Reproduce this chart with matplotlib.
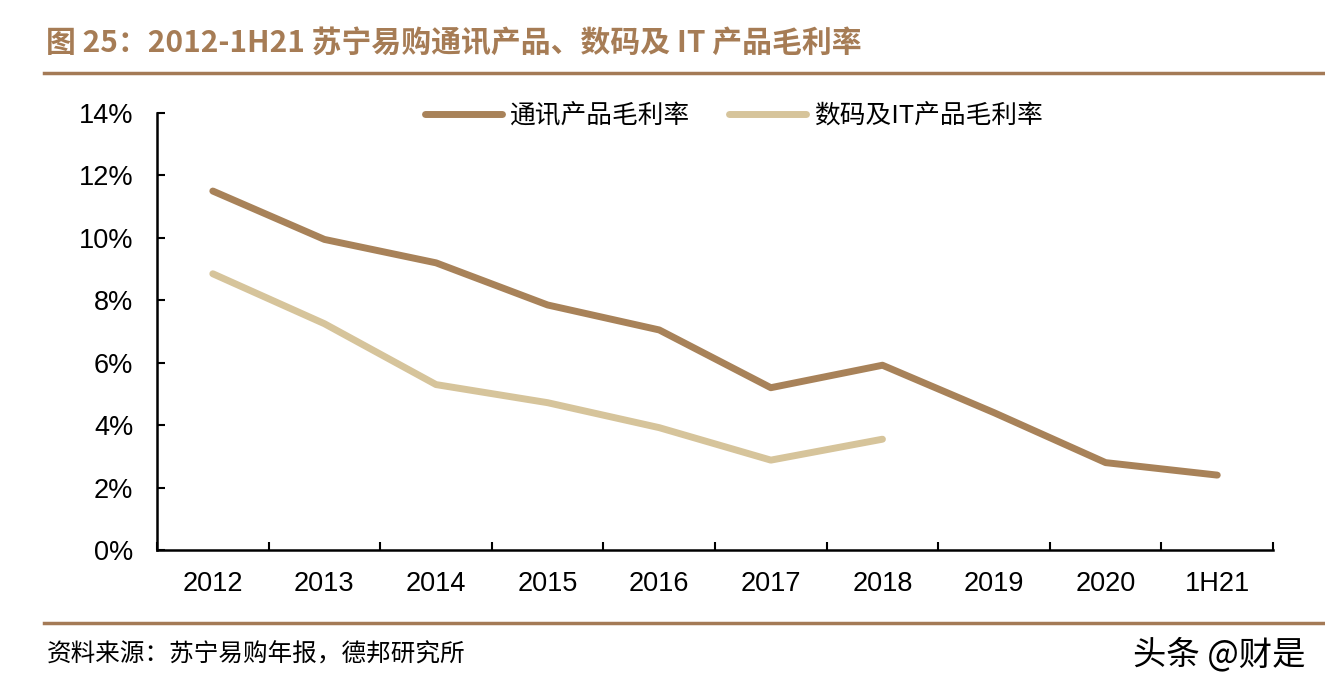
import matplotlib
matplotlib.use('Agg')
import matplotlib.pyplot as plt
import numpy as np

plt.rcParams['font.family'] = ['Liberation Sans', 'Noto Sans CJK SC', 'DejaVu Sans']

# data
periods = ['2012', '2013', '2014', '2015', '2016', '2017', '2018', '2019', '2020', '1H21']
comm_margin = [11.5, 9.95, 9.2, 7.85, 7.05, 5.2, 5.92, 4.4, 2.8, 2.4]
digital_margin = [8.85, 7.25, 5.3, 4.72, 3.92, 2.88, 3.55]

brown = '#A88259'
beige = '#D6C49B'
title_col = '#A67C55'
cjk = ['Noto Sans CJK SC', 'DejaVu Sans']

fig = plt.figure(figsize=(13.25, 6.89), dpi=100)
ax = fig.add_axes([0.1185, 0.2017, 0.8423, 0.6343])

x = np.arange(len(periods))
ax.plot(x, comm_margin, color=brown, linewidth=5, solid_capstyle='round',
        solid_joinstyle='round', label='通讯产品毛利率')
ax.plot(x[:len(digital_margin)], digital_margin, color=beige, linewidth=5,
        solid_capstyle='round', solid_joinstyle='round', label='数码及IT产品毛利率')

ax.set_xlim(-0.5, len(periods) - 0.5)
ax.set_ylim(0, 14)
ax.set_yticks(np.arange(0, 15, 2))
ax.set_yticklabels([f'{v}%' for v in range(0, 15, 2)], fontsize=19.5)
ax.set_xticks(x)
ax.set_xticklabels(periods, fontsize=19.5)
ax.set_xticks(np.arange(-0.5, len(periods), 1), minor=True)
ax.tick_params(axis='x', which='major', length=0, pad=15)
ax.tick_params(axis='x', which='minor', direction='in', length=6, width=1.5)
ax.tick_params(axis='y', direction='in', length=6, width=1.5, pad=17)

for side in ['top', 'right']:
    ax.spines[side].set_visible(False)
for side in ['left', 'bottom']:
    ax.spines[side].set_linewidth(1.8)

ax.legend(loc='upper center', bbox_to_anchor=(0.517, 1.075), ncol=2, frameon=False,
          handlelength=3.0, columnspacing=1.5, handletextpad=0.3,
          prop={'family': cjk, 'size': 18.5})

# title and rules
fig.text(0.035, 0.938, '图 25：2012-1H21 苏宁易购通讯产品、数码及 IT 产品毛利率',
         fontsize=21.5, fontweight='bold', color=title_col, va='center', family=cjk)
fig.add_artist(plt.Line2D([0.033, 1.0], [0.894, 0.894], color='#A47A56', linewidth=2.5))
fig.add_artist(plt.Line2D([0.033, 1.0], [0.096, 0.096], color='#A47A56', linewidth=2.5))
fig.text(0.035, 0.05, '资料来源：苏宁易购年报，德邦研究所', fontsize=17.7, va='center', family=cjk)
fig.text(0.985, 0.05, '头条 @财是', fontsize=24, va='center', ha='right', family=cjk)

plt.savefig('out.png', dpi=100)
